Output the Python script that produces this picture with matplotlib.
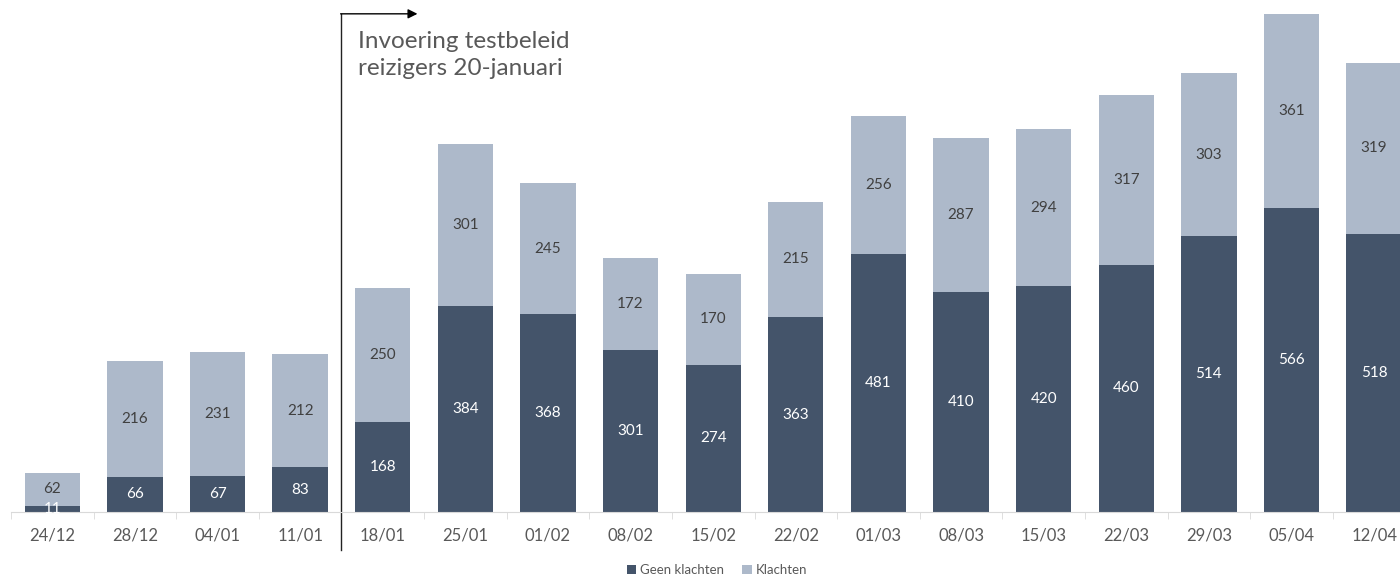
import matplotlib
matplotlib.use("Agg")
import matplotlib.pyplot as plt
import matplotlib.transforms as mtransforms
import numpy as np

plt.rcParams['font.family'] = ['Lato', 'DejaVu Sans']

# week labels and counts (geen klachten / klachten)
weeks = ['24/12', '28/12', '04/01', '11/01', '18/01', '25/01', '01/02', '08/02',
         '15/02', '22/02', '01/03', '08/03', '15/03', '22/03', '29/03', '05/04', '12/04']
geen_klachten = [11, 66, 67, 83, 168, 384, 368, 301, 274, 363, 481, 410, 420, 460, 514, 566, 518]
klachten = [62, 216, 231, 212, 250, 301, 245, 172, 170, 215, 256, 287, 294, 317, 303, 361, 319]

dark = '#44546a'
light = '#adb9ca'
grey_txt = '#595959'

fig = plt.figure(figsize=(14, 5.8), dpi=100)
ax = fig.add_axes([11 / 1400, 68 / 580, 1 - 11 / 1400, 512 / 580])

x = np.arange(len(weeks))
w = 0.67
ax.bar(x, geen_klachten, w, color=dark, label='Geen klachten', zorder=2)
ax.bar(x, klachten, w, bottom=geen_klachten, color=light, label='Klachten', zorder=2)

for xi, g, k in zip(x, geen_klachten, klachten):
    ax.text(xi, g / 2, str(g), ha='center', va='center', color='white', fontsize=11)
    ax.text(xi, g + k / 2, str(k), ha='center', va='center', color='#404040', fontsize=11)

for s in ['top', 'right', 'left']:
    ax.spines[s].set_visible(False)
ax.spines['bottom'].set_color('#d9d9d9')
ax.set_yticks([])
ax.set_xticks(x)
ax.set_xticklabels(weeks, fontsize=12, color=grey_txt)
ax.tick_params(axis='x', length=0, pad=11)
ax.set_xticks(np.arange(-0.5, len(weeks), 1), minor=True)
ax.tick_params(axis='x', which='minor', length=5, color='#d9d9d9')

ax.set_xlim(-0.5, (1400 - 52.5) / 82.6)
ax.set_ylim(0, 512 / 0.537)

# marker line for the new test policy
tr = mtransforms.blended_transform_factory(ax.transData, ax.transAxes)
ax.plot([3.5, 3.5], [-0.074, 0.973], color='#222222', lw=1, transform=tr, clip_on=False)
ax.annotate('', xy=(4.42, 0.973), xytext=(3.49, 0.973), xycoords=tr, textcoords=tr,
            arrowprops=dict(arrowstyle='-|>', color='black', lw=1, mutation_scale=14,
                            shrinkA=0, shrinkB=0), annotation_clip=False)
ax.text(3.70, 0.94, 'Invoering testbeleid\nreizigers 20-januari', transform=tr,
        ha='left', va='top', fontsize=17.5, color=grey_txt, linespacing=1.35)

fig.legend(loc='center', bbox_to_anchor=(717 / 1400, 10 / 580), ncol=2, frameon=False,
           fontsize=9.5, handlelength=0.7, handleheight=0.7, handletextpad=0.3,
           columnspacing=1.4, labelcolor=grey_txt)

fig.savefig('out.png', dpi=100)
